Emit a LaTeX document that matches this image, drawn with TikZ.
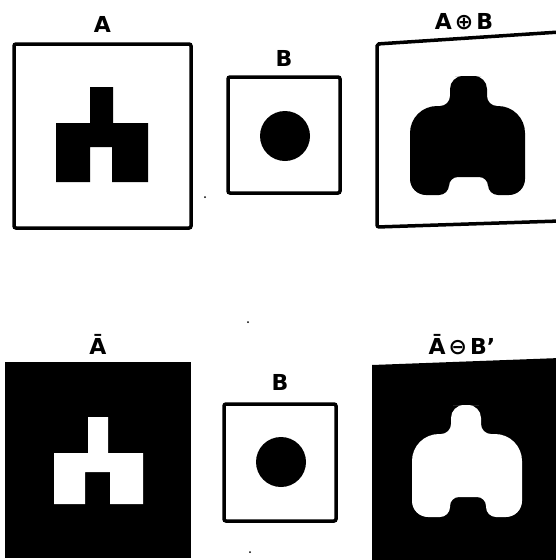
\documentclass[tikz,border=0pt]{standalone}
\usepackage{fontspec}
\setmainfont{DejaVu Sans}
\usetikzlibrary{positioning}

\begin{document}
\begin{tikzpicture}[
    x=1pt, y=-1pt,
    frame/.style={draw, line width=3.5pt, rounded corners=2pt, inner sep=0pt},
    solid/.style={fill=black, inner sep=0pt},
    headtext/.style={font=\fontsize{22}{24}\selectfont\bfseries, inner sep=0pt},
    speck/.style={fill=black}
  ]
  % page
  \useasboundingbox (0,0) rectangle (555,560);

  % --- top row: A, B, A (+) B ---
  \node[frame, minimum width=177pt, minimum height=184pt] (boxA) at (102.5,136) {};
  \node[frame, minimum width=112pt, minimum height=116pt] (boxB) at (284,135) {};
  \coordinate (dilNW) at (377,44);
  \coordinate (dilNE) at (560,32);
  \coordinate (dilSE) at (560,221);
  \coordinate (dilSW) at (377,227);
  \draw[line width=3.5pt, rounded corners=2pt] (dilNE) -- (dilNW) -- (dilSW) -- (dilSE);

  \node[headtext, above=10pt of boxA] (nameA) {A};
  \node[headtext, above=9pt of boxB] (nameB) {B};
  \node[headtext] (nameDil) at (464,22) {A\kern3pt⊕\kern3pt B};

  % shape A
  \fill (56,123) -- (90,123) -- (90,87) -- (113,87) -- (113,123) -- (148,123)
        -- (148,182) -- (112,182) -- (112,147) -- (90,147) -- (90,182) -- (56,182) -- cycle;
  % disk B
  \fill (285,136) circle[radius=25pt];
  % A dilated by B
  \fill (468,76) [rounded corners=13pt] -- (487,76) [rounded corners=10pt] -- (487,106)
        [rounded corners=27pt] -- (525,106) [rounded corners=16pt] -- (525,195)
        [rounded corners=10pt] -- (488,195) [rounded corners=9pt] -- (488,177)
        [rounded corners=9pt] -- (449,177) [rounded corners=10pt] -- (449,195)
        [rounded corners=16pt] -- (410,195) [rounded corners=27pt] -- (410,106)
        [rounded corners=10pt] -- (450,106) [rounded corners=13pt] -- (450,76) -- cycle;

  % --- bottom row: complement of A, B, eroded ---
  \node[solid, minimum width=186pt, minimum height=196pt] (boxAc) at (98,460) {};
  \node[frame, minimum width=112pt, minimum height=117pt] (boxB2) at (280,462.5) {};
  \coordinate (eroNW) at (372,365);
  \coordinate (eroNE) at (560,358);
  \coordinate (eroSE) at (560,565);
  \coordinate (eroSW) at (372,565);
  \fill (eroNW) -- (eroNE) -- (eroSE) -- (eroSW) -- cycle;

  \node[headtext, above=7pt of boxAc] (nameAc) {Ā};
  \node[headtext, above=12pt of boxB2] (nameB2) {B};
  \node[headtext] (nameEro) at (462,345) {Ā\kern3pt⊖\kern3pt B'};

  % complement hole (white A)
  \fill[white] (54,453) -- (88,453) -- (88,417) -- (108,417) -- (108,453) -- (143,453)
        -- (143,504) -- (110,504) -- (110,472) -- (85,472) -- (85,504) -- (54,504) -- cycle;
  % disk B
  \fill (281,462) circle[radius=25pt];
  % white blob
  \fill[white] (466,405) [rounded corners=13pt] -- (481,405) [rounded corners=10pt] -- (481,434)
        [rounded corners=27pt] -- (522,434) [rounded corners=16pt] -- (522,517)
        [rounded corners=10pt] -- (486,517) [rounded corners=9pt] -- (486,497)
        [rounded corners=9pt] -- (450,497) [rounded corners=10pt] -- (450,517)
        [rounded corners=16pt] -- (412,517) [rounded corners=27pt] -- (412,434)
        [rounded corners=10pt] -- (451,434) [rounded corners=13pt] -- (451,405) -- cycle;

  % stray specks
  \fill[speck] (205,197) circle[radius=1pt];
  \fill[speck] (248,322) circle[radius=1pt];
  \fill[speck] (250,552) circle[radius=1pt];
\end{tikzpicture}
\end{document}
